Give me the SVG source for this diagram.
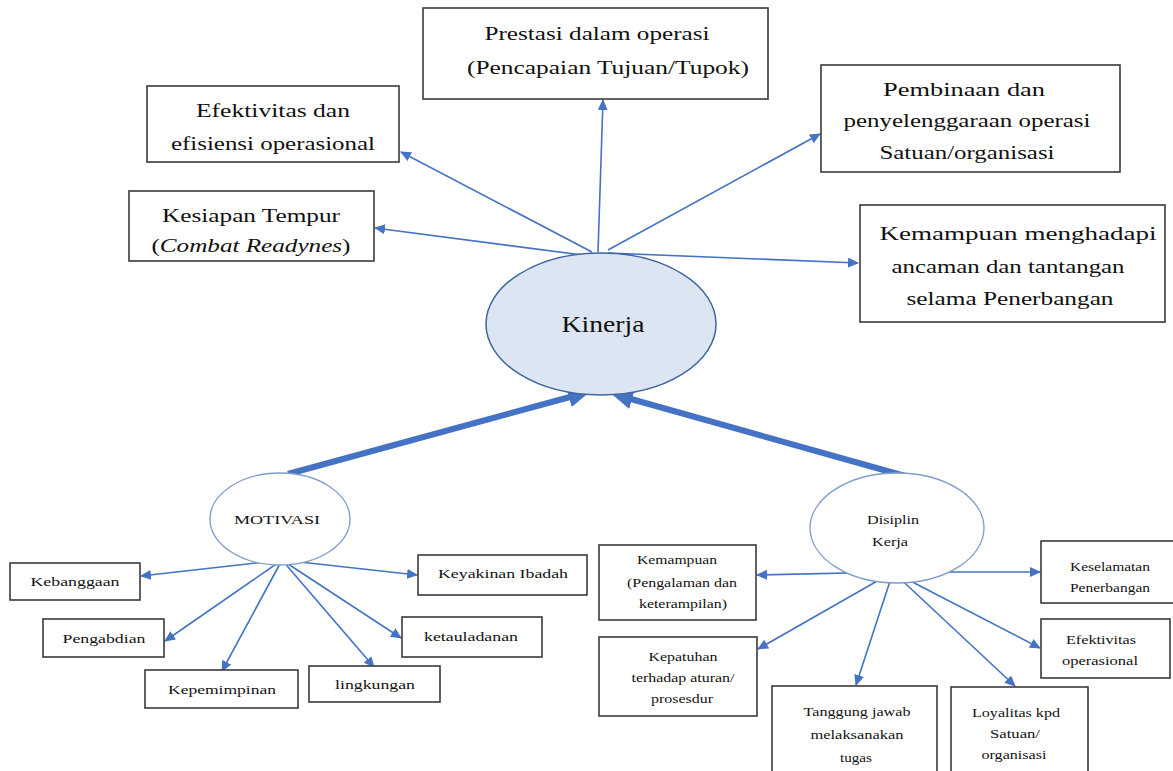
<svg xmlns="http://www.w3.org/2000/svg" width="1173" height="771" viewBox="0 0 1173 771" font-family="Liberation Serif, Times New Roman, serif">
<style>
.box{fill:#fff;stroke:#3a3a3a;stroke-width:1.6}
.t{fill:#111;text-anchor:middle}
.big{font-size:19px}
.sm{font-size:13px}
.thin{stroke:#4472C4;stroke-width:1.6;fill:none;marker-end:url(#ah)}
.thick{stroke:#4472C4;stroke-width:6;fill:none;marker-end:url(#ahb)}
</style>
<defs>
<marker id="ah" markerUnits="userSpaceOnUse" markerWidth="11" markerHeight="10" refX="10" refY="5" orient="auto"><path d="M0,0 L11,5 L0,10 z" fill="#4472C4"/></marker>
<marker id="ahb" markerUnits="userSpaceOnUse" markerWidth="22" markerHeight="20" refX="1" refY="10" orient="auto"><path d="M0,0 L22,10 L0,20 z" fill="#4472C4"/></marker>
</defs>
<rect width="1173" height="771" fill="#fff"/>
<g id="connectors">
<line class="thin" x1="598" y1="252" x2="603" y2="100"/>
<line class="thin" x1="592" y1="252" x2="401" y2="152"/>
<line class="thin" x1="590" y1="256" x2="375" y2="228"/>
<line class="thin" x1="608" y1="250" x2="820" y2="134"/>
<line class="thin" x1="608" y1="253" x2="858" y2="263"/>
<line class="thick" x1="288" y1="474" x2="570" y2="397"/>
<line class="thick" x1="905" y1="476" x2="631" y2="399"/>
<line class="thin" x1="282" y1="560" x2="141" y2="576"/>
<line class="thin" x1="282" y1="560" x2="165" y2="641"/>
<line class="thin" x1="282" y1="560" x2="222" y2="671"/>
<line class="thin" x1="282" y1="560" x2="374" y2="667"/>
<line class="thin" x1="282" y1="560" x2="401" y2="638"/>
<line class="thin" x1="282" y1="560" x2="417" y2="575"/>
<line class="thin" x1="893" y1="572" x2="757" y2="575"/>
<line class="thin" x1="893" y1="572" x2="758" y2="649"/>
<line class="thin" x1="893" y1="572" x2="856" y2="685"/>
<line class="thin" x1="893" y1="572" x2="1015" y2="686"/>
<line class="thin" x1="893" y1="572" x2="1040" y2="648"/>
<line class="thin" x1="893" y1="572" x2="1040" y2="572"/>
</g>
<g id="kinerja">
<ellipse cx="601" cy="324" rx="115" ry="71" fill="#DCE6F2" stroke="#41669C" stroke-width="1.5"/>
<text class="t" x="603" y="332" font-size="23" textLength="83" lengthAdjust="spacingAndGlyphs">Kinerja</text>
</g>
<g id="prestasi">
<rect class="box" x="423" y="8" width="345" height="91"/>
<text class="t big" x="597" y="40" textLength="225" lengthAdjust="spacingAndGlyphs">Prestasi dalam operasi</text>
<text class="t big" x="608" y="74" textLength="282" lengthAdjust="spacingAndGlyphs">(Pencapaian Tujuan/Tupok)</text>
</g>
<g id="efektivitas-efisiensi">
<rect class="box" x="147" y="86" width="252" height="76"/>
<text class="t big" x="273" y="117" textLength="154" lengthAdjust="spacingAndGlyphs">Efektivitas dan</text>
<text class="t big" x="273" y="150" textLength="204" lengthAdjust="spacingAndGlyphs">efisiensi operasional</text>
</g>
<g id="kesiapan">
<rect class="box" x="129" y="191" width="245" height="70"/>
<text class="t big" x="251" y="222" textLength="178" lengthAdjust="spacingAndGlyphs">Kesiapan Tempur</text>
<text class="t big" x="251" y="252" textLength="199" lengthAdjust="spacingAndGlyphs">(<tspan font-style="italic">Combat Readynes</tspan>)</text>
</g>
<g id="pembinaan">
<rect class="box" x="821" y="65" width="299" height="107"/>
<text class="t big" x="964" y="96" textLength="162" lengthAdjust="spacingAndGlyphs">Pembinaan dan</text>
<text class="t big" x="967" y="127" textLength="247" lengthAdjust="spacingAndGlyphs">penyelenggaraan operasi</text>
<text class="t big" x="967" y="159" textLength="175" lengthAdjust="spacingAndGlyphs">Satuan/organisasi</text>
</g>
<g id="kemampuan-menghadapi">
<rect class="box" x="860" y="205" width="305" height="117"/>
<text class="t big" x="1018" y="240" textLength="277" lengthAdjust="spacingAndGlyphs">Kemampuan menghadapi</text>
<text class="t big" x="1008" y="273" textLength="233" lengthAdjust="spacingAndGlyphs">ancaman dan tantangan</text>
<text class="t big" x="1010" y="305" textLength="207" lengthAdjust="spacingAndGlyphs">selama Penerbangan</text>
</g>
<g id="motivasi">
<ellipse cx="280" cy="519" rx="70" ry="46" fill="#fff" stroke="#7F9CCB" stroke-width="1.3"/>
<text class="t sm" x="277" y="524" textLength="86" lengthAdjust="spacingAndGlyphs">MOTIVASI</text>
</g>
<g id="kebanggaan">
<rect class="box" x="10" y="563" width="130" height="37"/>
<text class="t sm" x="75" y="586" textLength="89" lengthAdjust="spacingAndGlyphs">Kebanggaan</text>
</g>
<g id="pengabdian">
<rect class="box" x="43" y="619" width="121" height="38"/>
<text class="t sm" x="104" y="643" textLength="83" lengthAdjust="spacingAndGlyphs">Pengabdian</text>
</g>
<g id="kepemimpinan">
<rect class="box" x="145" y="670" width="153" height="38"/>
<text class="t sm" x="222" y="694" textLength="108" lengthAdjust="spacingAndGlyphs">Kepemimpinan</text>
</g>
<g id="lingkungan">
<rect class="box" x="309" y="666" width="131" height="36"/>
<text class="t sm" x="375" y="689" textLength="80" lengthAdjust="spacingAndGlyphs">lingkungan</text>
</g>
<g id="ketauladanan">
<rect class="box" x="402" y="617" width="140" height="40"/>
<text class="t sm" x="471" y="641" textLength="94" lengthAdjust="spacingAndGlyphs">ketauladanan</text>
</g>
<g id="keyakinan">
<rect class="box" x="418" y="555" width="169" height="40"/>
<text class="t sm" x="503" y="578" textLength="130" lengthAdjust="spacingAndGlyphs">Keyakinan Ibadah</text>
</g>
<g id="disiplin">
<ellipse cx="897" cy="528" rx="87" ry="55" fill="#fff" stroke="#7F9CCB" stroke-width="1.3"/>
<text class="t sm" x="893" y="524" textLength="52" lengthAdjust="spacingAndGlyphs">Disiplin</text>
<text class="t sm" x="890" y="546" textLength="36" lengthAdjust="spacingAndGlyphs">Kerja</text>
</g>
<g id="kemampuan">
<rect class="box" x="599" y="545" width="157" height="75"/>
<text class="t sm" x="677" y="564" textLength="80" lengthAdjust="spacingAndGlyphs">Kemampuan</text>
<text class="t sm" x="682" y="587" textLength="110" lengthAdjust="spacingAndGlyphs">(Pengalaman dan</text>
<text class="t sm" x="683" y="608" textLength="88" lengthAdjust="spacingAndGlyphs">keterampilan)</text>
</g>
<g id="kepatuhan">
<rect class="box" x="599" y="637" width="158" height="79"/>
<text class="t sm" x="683" y="661" textLength="69" lengthAdjust="spacingAndGlyphs">Kepatuhan</text>
<text class="t sm" x="683" y="682" textLength="103" lengthAdjust="spacingAndGlyphs">terhadap aturan/</text>
<text class="t sm" x="682" y="703" textLength="62" lengthAdjust="spacingAndGlyphs">prosesdur</text>
</g>
<g id="tanggung-jawab">
<rect class="box" x="772" y="686" width="165" height="90"/>
<text class="t sm" x="857" y="716" textLength="107" lengthAdjust="spacingAndGlyphs">Tanggung jawab</text>
<text class="t sm" x="857" y="739" textLength="93" lengthAdjust="spacingAndGlyphs">melaksanakan</text>
<text class="t sm" x="856" y="762" textLength="32" lengthAdjust="spacingAndGlyphs">tugas</text>
</g>
<g id="loyalitas">
<rect class="box" x="951" y="687" width="137" height="89"/>
<text class="t sm" x="1016" y="717" textLength="88" lengthAdjust="spacingAndGlyphs">Loyalitas kpd</text>
<text class="t sm" x="1015" y="738" textLength="50" lengthAdjust="spacingAndGlyphs">Satuan/</text>
<text class="t sm" x="1014" y="759" textLength="65" lengthAdjust="spacingAndGlyphs">organisasi</text>
</g>
<g id="efektivitas-operasional">
<rect class="box" x="1041" y="619" width="129" height="59"/>
<text class="t sm" x="1101" y="644" textLength="70" lengthAdjust="spacingAndGlyphs">Efektivitas</text>
<text class="t sm" x="1100" y="665" textLength="76" lengthAdjust="spacingAndGlyphs">operasional</text>
</g>
<g id="keselamatan">
<rect class="box" x="1041" y="541" width="134" height="62"/>
<text class="t sm" x="1110" y="571" textLength="80" lengthAdjust="spacingAndGlyphs">Keselamatan</text>
<text class="t sm" x="1110" y="592" textLength="80" lengthAdjust="spacingAndGlyphs">Penerbangan</text>
</g>
</svg>
